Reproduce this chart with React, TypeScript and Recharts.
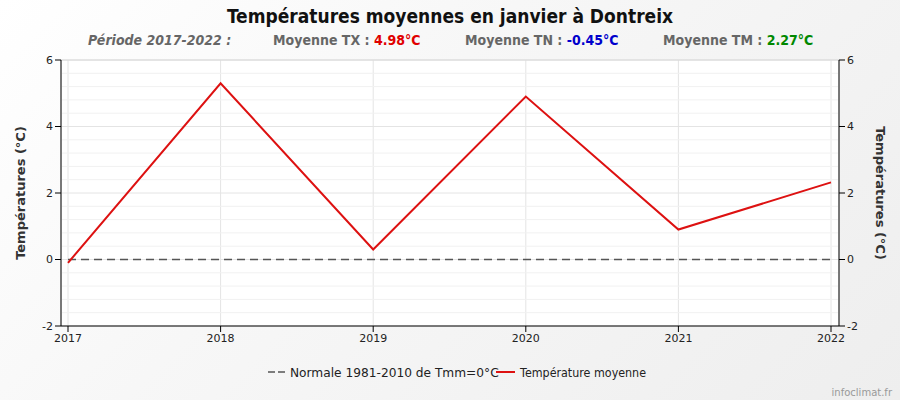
import React from 'react';
import { ComposedChart, Line, XAxis, YAxis, CartesianGrid, ReferenceLine } from 'recharts';

const years = [2017, 2018, 2019, 2020, 2021, 2022];
const tmoy = [-0.1, 5.3, 0.3, 4.9, 0.9, 2.32];
const normale = [0, 0, 0, 0, 0, 0];
const yTicks = [-2, 0, 2, 4, 6];
const minorTicks = [-1.6, -1.2, -0.8, -0.4, 0.4, 0.8, 1.2, 1.6, 2.4, 2.8, 3.2, 3.6, 4.4, 4.8, 5.2, 5.6];

const data = years.map((year, i) => ({ year, tmoy: tmoy[i], normale: normale[i] }));

const font = '"DejaVu Sans", Verdana, sans-serif';
const condensed = '"DejaVu Sans Condensed", "DejaVu Sans", sans-serif';
const tick = { fontSize: 11, fill: '#222', fontFamily: font };

export default function App() {
  return (
    <div
      style={{
        position: 'absolute',
        left: 0,
        top: 0,
        width: 900,
        height: 400,
        background: 'linear-gradient(135deg, #ffffff 0%, #f7f7f7 40%, #eeeeee 100%)',
        fontFamily: font,
        overflow: 'hidden',
      }}
    >
      <div
        style={{
          position: 'absolute', top: 5, left: 0, width: 900, textAlign: 'center',
          fontFamily: condensed, fontWeight: 'bold', fontSize: 19, color: '#111',
        }}
      >
        Températures moyennes en janvier à Dontreix
      </div>
      <div
        style={{
          position: 'absolute', top: 32, left: 0, width: 900, height: 20,
          fontFamily: condensed, fontWeight: 'bold', fontSize: 14, color: '#666',
        }}
      >
        <span style={{ position: 'absolute', left: 88, fontStyle: 'italic' }}>Période 2017-2022 :</span>
        <span style={{ position: 'absolute', left: 273 }}>
          Moyenne TX : <span style={{ color: '#e00000' }}>4.98°C</span>
        </span>
        <span style={{ position: 'absolute', left: 465 }}>
          Moyenne TN : <span style={{ color: '#0000cc' }}>-0.45°C</span>
        </span>
        <span style={{ position: 'absolute', left: 663 }}>
          Moyenne TM : <span style={{ color: '#008800' }}>2.27°C</span>
        </span>
      </div>

      <div style={{ position: 'absolute', left: 0, top: 0 }}>
        <ComposedChart width={900} height={400} data={data} margin={{ top: 60, right: 0, left: 0, bottom: 54 }}>
          <CartesianGrid yAxisId="left" fill="#ffffff" stroke="#e4e4e4" horizontal={true} vertical={true} />
          {minorTicks.map((v) => (
            <ReferenceLine key={v} yAxisId="left" y={v} stroke="#f1f1f1" strokeWidth={1} />
          ))}
          <ReferenceLine yAxisId="left" y={6} stroke="#d8d8d8" strokeWidth={1} />
          <XAxis
            dataKey="year"
            type="number"
            domain={[2017, 2022]}
            ticks={years}
            padding={{ left: 7, right: 8 }}
            tick={tick}
            tickSize={6}
            height={20}
            axisLine={{ stroke: '#000' }}
            tickLine={{ stroke: '#000' }}
          />
          <YAxis
            yAxisId="left"
            domain={[-2, 6]}
            ticks={yTicks}
            width={61}
            tick={tick}
            tickSize={6}
            axisLine={{ stroke: '#000' }}
            tickLine={{ stroke: '#000' }}
          />
          <YAxis
            yAxisId="right"
            orientation="right"
            domain={[-2, 6]}
            ticks={yTicks}
            width={61}
            tick={tick}
            tickSize={6}
            axisLine={{ stroke: '#000' }}
            tickLine={{ stroke: '#000' }}
          />
          <Line
            yAxisId="right"
            dataKey="normale"
            stroke="#555"
            strokeWidth={1.5}
            strokeDasharray="8 5"
            dot={false}
            isAnimationActive={false}
          />
          <Line
            yAxisId="left"
            dataKey="tmoy"
            stroke="#dd1111"
            strokeWidth={2}
            dot={false}
            isAnimationActive={false}
          />
        </ComposedChart>
      </div>

      <div
        style={{
          position: 'absolute', left: 20, top: 193, transform: 'translate(-50%, -50%) rotate(-90deg)',
          whiteSpace: 'nowrap', fontWeight: 'bold', fontSize: 13, color: '#333',
        }}
      >
        Températures (°C)
      </div>
      <div
        style={{
          position: 'absolute', left: 880, top: 193, transform: 'translate(-50%, -50%) rotate(90deg)',
          whiteSpace: 'nowrap', fontWeight: 'bold', fontSize: 13, color: '#333',
        }}
      >
        Températures (°C)
      </div>

      <svg style={{ position: 'absolute', left: 0, top: 360 }} width={900} height={24}>
        <line x1={268} y1={12} x2={287} y2={12} stroke="#555" strokeWidth={1.5} strokeDasharray="7 3" />
        <text x={290} y={17} fontSize={12.2} fontFamily={font} fill="#222">Normale 1981-2010 de Tmm=0°C</text>
        <line x1={496} y1={12} x2={515} y2={12} stroke="#dd1111" strokeWidth={2} />
        <text x={520} y={17} fontSize={12} fontFamily={font} fill="#222" textLength={126} lengthAdjust="spacingAndGlyphs">
          Température moyenne
        </text>
      </svg>

      <div style={{ position: 'absolute', right: 8, top: 387, fontSize: 10, color: '#999' }}>infoclimat.fr</div>
    </div>
  );
}
